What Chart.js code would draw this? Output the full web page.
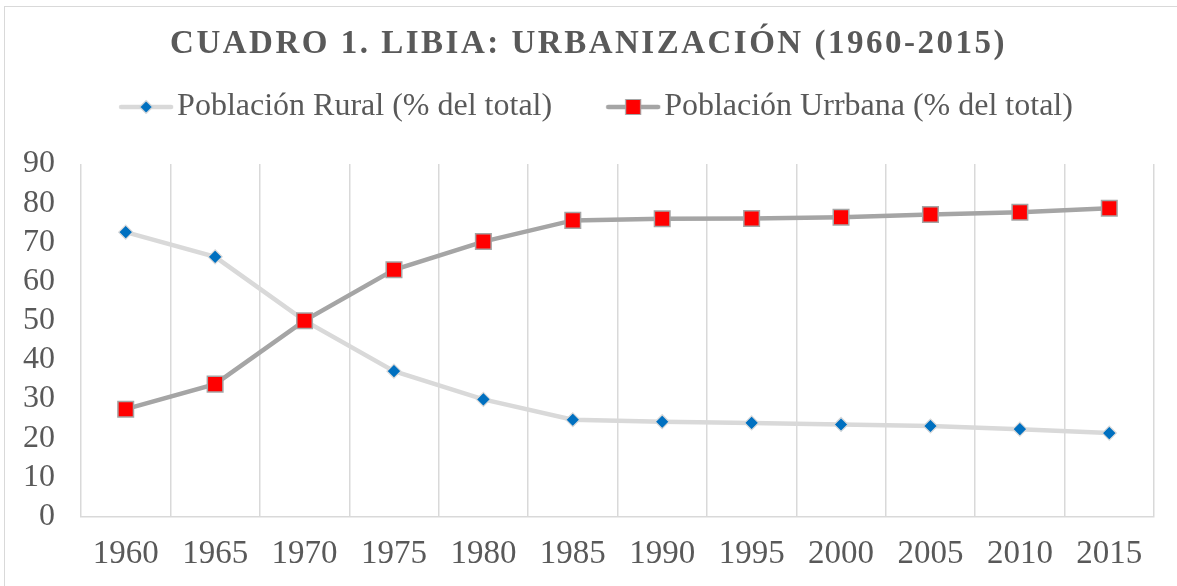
<!DOCTYPE html>
<html><head><meta charset="utf-8">
<script src="https://cdn.jsdelivr.net/npm/chart.js@4.4.1/dist/chart.umd.min.js"></script>
<style>
html,body{margin:0;padding:0;background:#fff;}
#wrap{position:relative;width:1177px;height:586px;overflow:hidden;}
#frame{position:absolute;left:4px;top:6px;width:1190px;height:600px;border:1.5px solid #d9d9d9;box-sizing:border-box;}
#title{position:absolute;left:0;top:24px;width:1177px;text-align:center;font:bold 33px "Liberation Serif";letter-spacing:2.5px;color:#595959;white-space:nowrap;}
canvas{position:absolute;left:0;top:0;}
</style></head>
<body><div id="wrap"><div id="frame"></div><canvas id="c" width="1177" height="586"></canvas><div id="title">CUADRO 1. LIBIA: URBANIZACIÓN (1960-2015)</div></div>
<script>
const years = ['1960','1965','1970','1975','1980','1985','1990','1995','2000','2005','2010','2015'];
const rural = [72.6, 66.3, 50.0, 37.1, 29.9, 24.7, 24.2, 23.9, 23.5, 23.1, 22.3, 21.3];
const urban = [27.4, 33.8, 50.0, 63.0, 70.2, 75.6, 76.0, 76.1, 76.4, 77.1, 77.7, 78.7];
const seriesNames = ['Población Rural (% del total)', 'Población Urrbana (% del total)'];
const yTicks = [0,10,20,30,40,50,60,70,80,90];

const TXT = '#595959';
function legendIcon(lineColor, style, fill, border) {
  const c = document.createElement('canvas');
  c.width = 56; c.height = 24;
  const x = c.getContext('2d');
  x.strokeStyle = lineColor; x.lineWidth = 4.5; x.lineCap = 'round';
  x.beginPath(); x.moveTo(3, 12); x.lineTo(53, 12); x.stroke();
  x.fillStyle = fill; x.strokeStyle = border; x.lineWidth = 1.2;
  x.beginPath();
  if (style === 'diamond') {
    x.moveTo(28, 5.5); x.lineTo(34.5, 12); x.lineTo(28, 18.5); x.lineTo(21.5, 12); x.closePath();
  } else {
    x.rect(20.5, 4.5, 15, 15);
  }
  x.fill(); x.stroke();
  return c;
}
const icons = [legendIcon('#d9d9d9','diamond','#0070c0','#d9d9d9'), legendIcon('#a5a5a5','square','#ff0000','#a5a5a5')];

const layoutTweaks = {
  id: 'layoutTweaks',
  afterInit(chart) {
    const lg = chart.legend;
    if (!lg) return;
    const orig = lg.fit;
    lg.fit = function () { orig.call(this); this.height += 31; };
  },
  afterLayout(chart) {
    chart.scales.y.left = 0;
  }
};

new Chart(document.getElementById('c'), {
  type: 'line',
  data: {
    labels: years,
    datasets: [
      { label: seriesNames[0], data: rural, borderColor: '#d9d9d9', borderWidth: 4.5,
        pointStyle: 'rectRot', pointRadius: 7, pointBackgroundColor: '#0070c0', pointBorderColor: '#d9d9d9', pointBorderWidth: 1.2, order: 1 },
      { label: seriesNames[1], data: urban, borderColor: '#a5a5a5', borderWidth: 4.5,
        pointStyle: 'rect', pointRadius: 11, pointBackgroundColor: '#ff0000', pointBorderColor: '#a5a5a5', pointBorderWidth: 1.5, order: 0 }
    ]
  },
  options: {
    responsive: false, animation: false,
    layout: { padding: { top: 25, left: 50, right: 23, bottom: 0 } },
    elements: { line: { tension: 0 } },
    plugins: {
      title: { display: false },
      tooltip: { enabled: false },
      legend: {
        position: 'top',
        labels: {
          color: TXT, font: { family: 'Liberation Serif', size: 32 },
          usePointStyle: true, pointStyleWidth: 30, padding: 66,
          generateLabels: (chart) => chart.data.datasets.map((d, i) => ({
            text: d.label, pointStyle: icons[i], fillStyle: 'transparent', strokeStyle: 'transparent',
            lineWidth: 0, datasetIndex: i, hidden: false, fontColor: TXT
          }))
        }
      }
    },
    scales: {
      x: {
        offset: true,
        grid: { offset: true, color: '#d9d9d9', lineWidth: 1.5, drawTicks: false },
        border: { color: '#d9d9d9', width: 1.5 },
        ticks: { color: TXT, font: { family: 'Liberation Serif', size: 33 }, padding: 18, maxRotation: 0, autoSkip: false },
        afterFit: (s) => { s.height = 69.5; }
      },
      y: {
        min: 0, max: 90,
        afterBuildTicks: (s) => { s.ticks = yTicks.map(v => ({ value: v })); },
        grid: { display: false, drawTicks: false },
        border: { display: false },
        ticks: { color: TXT, font: { family: 'Liberation Serif', size: 32 }, padding: 26, autoSkip: false },
        afterFit: (s) => { s.width = 31; }
      }
    }
  },
  plugins: [layoutTweaks]
});
</script>
</body></html>
